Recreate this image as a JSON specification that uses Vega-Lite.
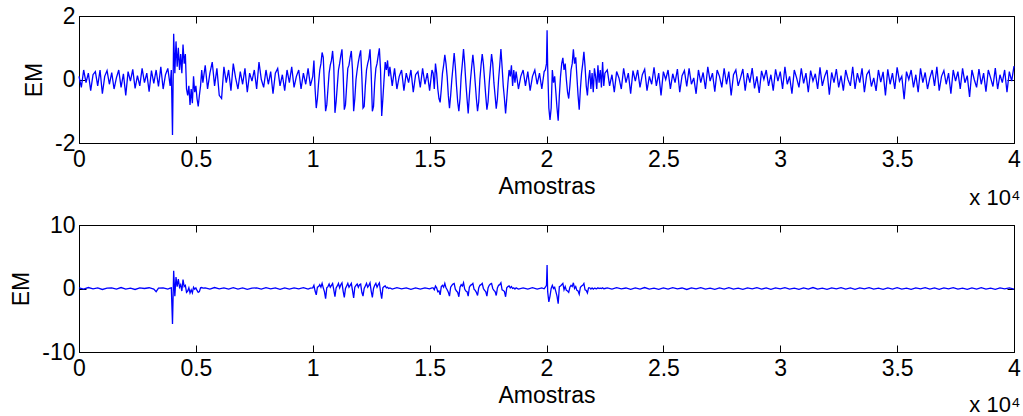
{
  "$schema": "https://vega.github.io/schema/vega-lite/v6.json",
  "background": "white",
  "padding": {"left": 10, "top": 4, "right": 1, "bottom": 0},
  "spacing": 3,
  "config": {
    "font": "Liberation Sans",
    "view": {"stroke": "black", "strokeWidth": 1},
    "axis": {
      "grid": false,
      "domainColor": "black",
      "tickColor": "black",
      "tickSize": -7,
      "labelFont": "Liberation Sans",
      "labelFontSize": 23,
      "labelColor": "black",
      "labelFlush": false,
      "labelPadding": 12,
      "titleFont": "Liberation Sans",
      "titleFontSize": 23,
      "titleFontWeight": "normal",
      "titleColor": "black",
      "titlePadding": 4
    },
    "title": {"font": "Liberation Sans", "fontSize": 22, "fontWeight": "normal", "color": "black"}
  },
  "datasets": {
    "top": [
      {"n":0,"a":0.1},{"n":100,"a":-0.25},{"n":200,"a":0.3},{"n":300,"a":-0.1},{"n":400,"a":0.2},{"n":500,"a":-0.35},{"n":600,"a":0.15},{"n":700,"a":0.25},{"n":800,"a":-0.2},{"n":900,"a":0.3},
      {"n":1000,"a":-0.45},{"n":1100,"a":0.1},{"n":1200,"a":0.28},{"n":1300,"a":-0.15},{"n":1400,"a":0.22},{"n":1500,"a":-0.3},{"n":1600,"a":0.05},{"n":1700,"a":0.3},{"n":1800,"a":-0.25},{"n":1900,"a":0.18},
      {"n":2000,"a":-0.5},{"n":2100,"a":0.25},{"n":2200,"a":-0.05},{"n":2300,"a":0.32},{"n":2400,"a":-0.28},{"n":2500,"a":0.12},{"n":2600,"a":-0.2},{"n":2700,"a":0.35},{"n":2800,"a":-0.1},{"n":2900,"a":0.2},
      {"n":3000,"a":-0.38},{"n":3100,"a":0.28},{"n":3200,"a":-0.12},{"n":3300,"a":0.3},{"n":3400,"a":-0.22},{"n":3500,"a":0.4},{"n":3600,"a":-0.3},{"n":3700,"a":0.15},{"n":3800,"a":0.35},{"n":3900,"a":-0.2},
      {"n":3950,"a":0.3},{"n":4000,"a":-1.75},{"n":4050,"a":1.44},{"n":4100,"a":0.2},{"n":4150,"a":1.2},{"n":4200,"a":0.4},{"n":4250,"a":1.0},{"n":4300,"a":0.3},{"n":4350,"a":0.8},{"n":4400,"a":0.2},
      {"n":4450,"a":1.1},{"n":4500,"a":0.5},{"n":4550,"a":0.8},{"n":4600,"a":-0.3},{"n":4650,"a":-0.5},{"n":4700,"a":-0.2},{"n":4750,"a":-0.8},{"n":4800,"a":-0.3},{"n":4850,"a":-0.75},{"n":4900,"a":0.1},
      {"n":4950,"a":-0.4},{"n":5000,"a":-0.2},{"n":5050,"a":-0.6},{"n":5100,"a":-0.85},{"n":5150,"a":-0.5},{"n":5200,"a":-0.2},{"n":5250,"a":0.3},{"n":5300,"a":-0.1},
      {"n":5400,"a":0.45},{"n":5500,"a":-0.3},{"n":5600,"a":0.2},{"n":5700,"a":0.55},{"n":5800,"a":-0.2},{"n":5900,"a":0.35},{"n":6000,"a":-0.5},{"n":6100,"a":-0.6},{"n":6200,"a":0.4},{"n":6300,"a":-0.1},
      {"n":6400,"a":0.3},{"n":6500,"a":-0.35},{"n":6600,"a":0.5},{"n":6700,"a":0.05},{"n":6800,"a":-0.3},{"n":6900,"a":0.25},{"n":7000,"a":-0.15},{"n":7100,"a":0.35},{"n":7200,"a":-0.4},{"n":7300,"a":0.2},
      {"n":7400,"a":-0.05},{"n":7500,"a":0.3},{"n":7600,"a":-0.3},{"n":7700,"a":0.55},{"n":7800,"a":0.0},{"n":7900,"a":-0.25},{"n":8000,"a":0.3},{"n":8100,"a":-0.15},{"n":8200,"a":0.25},{"n":8300,"a":-0.45},
      {"n":8400,"a":0.2},{"n":8500,"a":0.35},{"n":8600,"a":-0.2},{"n":8700,"a":0.15},{"n":8800,"a":-0.35},{"n":8900,"a":0.3},{"n":9000,"a":-0.1},{"n":9100,"a":0.4},{"n":9200,"a":-0.25},{"n":9300,"a":0.1},
      {"n":9400,"a":0.3},{"n":9500,"a":-0.3},{"n":9600,"a":0.2},{"n":9700,"a":-0.15},{"n":9800,"a":0.35},{"n":9900,"a":-0.2},
      {"n":10000,"a":0.1},{"n":10050,"a":0.6},{"n":10100,"a":-0.3},{"n":10150,"a":-0.9},{"n":10200,"a":-0.6},{"n":10250,"a":-0.1},{"n":10300,"a":0.3},{"n":10350,"a":0.5},{"n":10400,"a":0.85},{"n":10450,"a":0.7},
      {"n":10500,"a":-0.2},{"n":10550,"a":-1.0},{"n":10600,"a":-0.8},{"n":10650,"a":-0.3},{"n":10700,"a":0.2},{"n":10750,"a":0.45},{"n":10800,"a":0.6},{"n":10850,"a":0.9},{"n":10900,"a":0.4},{"n":10950,"a":-1.05},
      {"n":11000,"a":-0.7},{"n":11050,"a":-0.2},{"n":11100,"a":0.3},{"n":11150,"a":0.5},{"n":11200,"a":0.75},{"n":11250,"a":0.95},{"n":11300,"a":0.2},{"n":11350,"a":-0.95},{"n":11400,"a":-0.8},{"n":11450,"a":-0.2},
      {"n":11500,"a":0.35},{"n":11550,"a":0.45},{"n":11600,"a":0.7},{"n":11650,"a":0.9},{"n":11700,"a":0.3},{"n":11750,"a":-1.0},{"n":11800,"a":-0.6},{"n":11850,"a":0.0},{"n":11900,"a":0.3},{"n":11950,"a":0.55},
      {"n":12000,"a":0.75},{"n":12050,"a":0.92},{"n":12100,"a":0.1},{"n":12150,"a":-0.9},{"n":12200,"a":-0.85},{"n":12250,"a":-0.2},{"n":12300,"a":0.3},{"n":12350,"a":0.5},{"n":12400,"a":0.65},{"n":12450,"a":0.95},
      {"n":12500,"a":0.2},{"n":12550,"a":-1.0},{"n":12600,"a":-0.85},{"n":12650,"a":-0.1},{"n":12700,"a":0.35},{"n":12750,"a":0.5},{"n":12800,"a":0.75},{"n":12850,"a":0.98},{"n":12900,"a":0.3},{"n":12950,"a":-1.15},
      {"n":13000,"a":-0.6},{"n":13050,"a":0.0},{"n":13100,"a":0.55},{"n":13150,"a":0.3},{"n":13200,"a":0.6},{"n":13250,"a":0.1},{"n":13300,"a":0.4},
      {"n":13400,"a":-0.2},{"n":13500,"a":0.35},{"n":13600,"a":-0.3},{"n":13700,"a":0.1},{"n":13800,"a":0.3},{"n":13900,"a":-0.35},{"n":14000,"a":0.2},{"n":14100,"a":-0.1},{"n":14200,"a":0.3},{"n":14300,"a":-0.4},
      {"n":14400,"a":0.15},{"n":14500,"a":0.25},{"n":14600,"a":-0.25},{"n":14700,"a":0.35},{"n":14800,"a":-0.15},{"n":14900,"a":0.2},{"n":15000,"a":-0.35},{"n":15100,"a":0.3},
      {"n":15150,"a":0.2},{"n":15200,"a":-0.3},{"n":15250,"a":0.5},{"n":15300,"a":0.2},{"n":15350,"a":-0.3},{"n":15400,"a":-0.6},{"n":15450,"a":-0.72},{"n":15500,"a":-0.3},{"n":15550,"a":0.2},{"n":15600,"a":0.45},
      {"n":15650,"a":0.78},{"n":15700,"a":0.5},{"n":15750,"a":0.1},{"n":15800,"a":-0.5},{"n":15850,"a":-0.9},{"n":15900,"a":-0.5},{"n":15950,"a":0.0},{"n":16000,"a":0.4},{"n":16050,"a":0.83},{"n":16100,"a":0.4},
      {"n":16150,"a":-0.2},{"n":16200,"a":-0.7},{"n":16250,"a":-1.0},{"n":16300,"a":-0.6},{"n":16350,"a":0.1},{"n":16400,"a":0.5},{"n":16450,"a":0.96},{"n":16500,"a":0.5},{"n":16550,"a":-0.1},{"n":16600,"a":-0.6},
      {"n":16650,"a":-1.07},{"n":16700,"a":-0.5},{"n":16750,"a":0.0},{"n":16800,"a":0.4},{"n":16850,"a":0.78},{"n":16900,"a":0.4},{"n":16950,"a":-0.1},{"n":17000,"a":-0.6},{"n":17050,"a":-1.0},{"n":17100,"a":-0.7},
      {"n":17150,"a":0.0},{"n":17200,"a":0.45},{"n":17250,"a":0.8},{"n":17300,"a":0.5},{"n":17350,"a":0.0},{"n":17400,"a":-0.5},{"n":17450,"a":-0.95},{"n":17500,"a":-0.7},{"n":17550,"a":-0.1},{"n":17600,"a":0.35},
      {"n":17650,"a":0.8},{"n":17700,"a":0.5},{"n":17750,"a":-0.1},{"n":17800,"a":-0.5},{"n":17850,"a":-0.92},{"n":17900,"a":-0.6},{"n":17950,"a":0.0},{"n":18000,"a":0.45},{"n":18050,"a":0.96},{"n":18100,"a":0.4},
      {"n":18150,"a":-0.2},{"n":18200,"a":-0.6},{"n":18250,"a":-1.07},{"n":18300,"a":-0.6},{"n":18350,"a":-0.1},{"n":18400,"a":0.3},{"n":18450,"a":0.1},{"n":18500,"a":0.45},{"n":18550,"a":-0.2},{"n":18600,"a":0.3},
      {"n":18650,"a":-0.1},{"n":18700,"a":0.25},
      {"n":18800,"a":-0.3},{"n":18900,"a":0.1},{"n":19000,"a":0.3},{"n":19100,"a":-0.2},{"n":19200,"a":0.25},{"n":19300,"a":-0.35},{"n":19400,"a":0.1},{"n":19500,"a":0.3},{"n":19600,"a":-0.15},{"n":19700,"a":0.2},
      {"n":19800,"a":-0.3},{"n":19900,"a":0.25},
      {"n":19950,"a":0.3},{"n":20000,"a":0.5},{"n":20025,"a":1.55},{"n":20050,"a":0.4},{"n":20100,"a":-0.9},{"n":20150,"a":-1.27},{"n":20200,"a":-0.9},{"n":20250,"a":0.3},{"n":20300,"a":-0.1},{"n":20350,"a":0.1},
      {"n":20400,"a":-0.4},{"n":20450,"a":-0.9},{"n":20500,"a":-1.3},{"n":20550,"a":-0.5},{"n":20600,"a":0.1},{"n":20650,"a":0.5},{"n":20700,"a":0.68},{"n":20750,"a":0.3},{"n":20800,"a":0.5},{"n":20850,"a":0.0},
      {"n":20900,"a":-0.4},{"n":20950,"a":-0.6},{"n":21000,"a":-0.2},{"n":21050,"a":0.3},{"n":21100,"a":0.5},{"n":21150,"a":0.95},{"n":21200,"a":0.5},{"n":21250,"a":0.7},{"n":21300,"a":0.1},{"n":21350,"a":-0.5},
      {"n":21400,"a":-0.95},{"n":21450,"a":-0.3},{"n":21500,"a":0.2},{"n":21550,"a":0.5},{"n":21600,"a":0.87},{"n":21650,"a":0.4},{"n":21700,"a":-0.2},{"n":21750,"a":-0.5},{"n":21800,"a":0.0},{"n":21850,"a":0.3},
      {"n":21900,"a":-0.3},{"n":21950,"a":0.2},{"n":22000,"a":-0.4},{"n":22050,"a":0.35},{"n":22100,"a":0.1},{"n":22150,"a":-0.3},{"n":22200,"a":0.45},{"n":22250,"a":-0.1},{"n":22300,"a":0.3},{"n":22350,"a":-0.25},
      {"n":22400,"a":0.55},{"n":22450,"a":-0.2},{"n":22500,"a":0.2},
      {"n":22600,"a":0.3},{"n":22700,"a":-0.2},{"n":22800,"a":0.15},{"n":22900,"a":-0.4},{"n":23000,"a":0.25},{"n":23100,"a":0.05},{"n":23200,"a":-0.3},{"n":23300,"a":0.35},{"n":23400,"a":-0.1},{"n":23500,"a":0.2},
      {"n":23600,"a":-0.45},{"n":23700,"a":0.28},{"n":23800,"a":-0.05},{"n":23900,"a":0.3},{"n":24000,"a":-0.25},{"n":24100,"a":0.15},{"n":24200,"a":0.32},{"n":24300,"a":-0.35},{"n":24400,"a":0.1},{"n":24500,"a":-0.15},
      {"n":24600,"a":0.38},{"n":24700,"a":-0.2},{"n":24800,"a":0.2},{"n":24900,"a":-0.5},{"n":25000,"a":0.25},{"n":25100,"a":0.0},{"n":25200,"a":0.3},{"n":25300,"a":-0.3},{"n":25400,"a":0.18},{"n":25500,"a":-0.1},
      {"n":25600,"a":0.33},{"n":25700,"a":-0.4},{"n":25800,"a":0.12},{"n":25900,"a":0.28},{"n":26000,"a":-0.22},{"n":26100,"a":0.35},{"n":26200,"a":-0.15},{"n":26300,"a":0.05},{"n":26400,"a":-0.45},{"n":26500,"a":0.3},
      {"n":26600,"a":-0.1},{"n":26700,"a":0.22},{"n":26800,"a":-0.3},{"n":26900,"a":0.4},{"n":27000,"a":-0.05},{"n":27100,"a":0.2},{"n":27200,"a":-0.38},{"n":27300,"a":0.3},{"n":27400,"a":0.1},{"n":27500,"a":-0.25},
      {"n":27600,"a":0.35},{"n":27700,"a":-0.15},{"n":27800,"a":0.25},{"n":27900,"a":-0.5},{"n":28000,"a":0.15},{"n":28100,"a":0.3},{"n":28200,"a":-0.2},{"n":28300,"a":0.05},{"n":28400,"a":0.33},{"n":28500,"a":-0.35},
      {"n":28600,"a":0.2},{"n":28700,"a":-0.1},{"n":28800,"a":0.36},{"n":28900,"a":-0.28},{"n":29000,"a":0.1},{"n":29100,"a":-0.42},{"n":29200,"a":0.27},{"n":29300,"a":0.0},{"n":29400,"a":0.3},{"n":29500,"a":-0.2},
      {"n":29600,"a":0.15},{"n":29700,"a":-0.35},{"n":29800,"a":0.32},{"n":29900,"a":-0.05},{"n":30000,"a":0.25},{"n":30100,"a":-0.3},{"n":30200,"a":0.4},{"n":30300,"a":-0.15},{"n":30400,"a":0.1},{"n":30500,"a":-0.45},
      {"n":30600,"a":0.3},{"n":30700,"a":0.05},{"n":30800,"a":-0.25},{"n":30900,"a":0.35},{"n":31000,"a":-0.12},{"n":31100,"a":0.2},{"n":31200,"a":-0.4},{"n":31300,"a":0.28},{"n":31400,"a":-0.05},{"n":31500,"a":0.18},
      {"n":31600,"a":-0.3},{"n":31700,"a":0.38},{"n":31800,"a":-0.2},{"n":31900,"a":0.1},{"n":32000,"a":0.3},{"n":32100,"a":-0.48},{"n":32200,"a":0.22},{"n":32300,"a":-0.1},{"n":32400,"a":0.33},{"n":32500,"a":-0.25},
      {"n":32600,"a":0.12},{"n":32700,"a":-0.35},{"n":32800,"a":0.3},{"n":32900,"a":0.0},{"n":33000,"a":-0.2},{"n":33100,"a":0.4},{"n":33200,"a":-0.3},{"n":33300,"a":0.2},{"n":33400,"a":-0.1},{"n":33500,"a":0.35},
      {"n":33600,"a":-0.4},{"n":33700,"a":0.15},{"n":33800,"a":0.28},{"n":33900,"a":-0.22},{"n":34000,"a":0.05},{"n":34100,"a":-0.36},{"n":34200,"a":0.3},{"n":34300,"a":-0.08},{"n":34400,"a":0.24},{"n":34500,"a":-0.5},
      {"n":34600,"a":0.32},{"n":34700,"a":-0.15},{"n":34800,"a":0.2},{"n":34900,"a":-0.3},{"n":35000,"a":0.38},{"n":35100,"a":-0.05},{"n":35200,"a":0.1},{"n":35300,"a":-0.62},{"n":35400,"a":0.25},{"n":35500,"a":0.0},
      {"n":35600,"a":0.3},{"n":35700,"a":-0.25},{"n":35800,"a":0.15},{"n":35900,"a":-0.4},{"n":36000,"a":0.35},{"n":36100,"a":-0.1},{"n":36200,"a":0.22},{"n":36300,"a":-0.3},{"n":36400,"a":0.05},{"n":36500,"a":0.3},
      {"n":36600,"a":-0.2},{"n":36700,"a":0.4},{"n":36800,"a":-0.35},{"n":36900,"a":0.1},{"n":37000,"a":0.28},{"n":37100,"a":-0.15},{"n":37200,"a":0.2},{"n":37300,"a":-0.45},{"n":37400,"a":0.3},{"n":37500,"a":-0.05},
      {"n":37600,"a":0.25},{"n":37700,"a":-0.3},{"n":37800,"a":0.35},{"n":37900,"a":-0.1},{"n":38000,"a":0.12},{"n":38100,"a":-0.55},{"n":38200,"a":0.3},{"n":38300,"a":0.0},{"n":38400,"a":-0.25},{"n":38500,"a":0.33},
      {"n":38600,"a":-0.15},{"n":38700,"a":0.2},{"n":38800,"a":-0.38},{"n":38900,"a":0.3},{"n":39000,"a":0.05},{"n":39100,"a":-0.22},{"n":39200,"a":0.36},{"n":39300,"a":-0.3},{"n":39400,"a":0.15},{"n":39500,"a":-0.1},
      {"n":39600,"a":0.3},{"n":39700,"a":-0.4},{"n":39800,"a":0.25},{"n":39900,"a":-0.05},{"n":40000,"a":0.42}
    ],
    "bottom": [
      {"n":0,"b":0.1},{"n":200,"b":-0.1},{"n":400,"b":0.15},{"n":600,"b":-0.05},{"n":800,"b":0.1},{"n":1000,"b":-0.15},{"n":1200,"b":0.05},{"n":1400,"b":0.1},{"n":1600,"b":-0.1},{"n":1800,"b":0.15},
      {"n":2000,"b":-0.1},{"n":2200,"b":0.05},{"n":2400,"b":-0.15},{"n":2600,"b":0.1},{"n":2800,"b":0.0},{"n":3000,"b":0.12},{"n":3200,"b":-0.1},{"n":3300,"b":-0.5},{"n":3400,"b":0.05},{"n":3600,"b":0.1},
      {"n":3800,"b":-0.1},{"n":3900,"b":0.05},
      {"n":3950,"b":0.1},{"n":4000,"b":-5.6},{"n":4050,"b":2.8},{"n":4100,"b":-1.2},{"n":4150,"b":1.8},{"n":4200,"b":0.3},{"n":4250,"b":1.5},{"n":4300,"b":0.2},{"n":4350,"b":0.6},{"n":4400,"b":-0.4},
      {"n":4450,"b":1.4},{"n":4500,"b":0.3},{"n":4550,"b":0.5},{"n":4600,"b":-0.6},{"n":4650,"b":-0.4},{"n":4700,"b":0.1},{"n":4750,"b":-0.7},{"n":4800,"b":-0.2},{"n":4850,"b":-0.7},{"n":4900,"b":0.2},
      {"n":4950,"b":-0.1},{"n":5000,"b":0.1},{"n":5050,"b":-0.3},{"n":5100,"b":-0.6},{"n":5150,"b":-0.5},{"n":5200,"b":0.1},{"n":5250,"b":0.15},{"n":5300,"b":0.05},
      {"n":5400,"b":0.1},{"n":5600,"b":-0.1},{"n":5800,"b":0.15},{"n":6000,"b":-0.05},{"n":6200,"b":0.1},{"n":6400,"b":-0.1},{"n":6600,"b":0.12},{"n":6800,"b":-0.08},{"n":7000,"b":0.1},{"n":7200,"b":-0.12},
      {"n":7400,"b":0.05},{"n":7600,"b":0.1},{"n":7800,"b":-0.1},{"n":8000,"b":0.12},{"n":8200,"b":-0.05},{"n":8400,"b":0.1},{"n":8600,"b":-0.12},{"n":8800,"b":0.08},{"n":9000,"b":-0.1},{"n":9200,"b":0.1},
      {"n":9400,"b":-0.05},{"n":9600,"b":0.12},{"n":9800,"b":-0.1},{"n":9900,"b":0.05},
      {"n":10000,"b":0.1},{"n":10050,"b":0.5},{"n":10100,"b":-0.4},{"n":10150,"b":-1.0},{"n":10200,"b":0.2},{"n":10250,"b":0.3},{"n":10300,"b":0.6},{"n":10350,"b":0.2},{"n":10400,"b":0.8},{"n":10450,"b":0.1},
      {"n":10500,"b":-0.5},{"n":10550,"b":-1.6},{"n":10600,"b":0.1},{"n":10650,"b":0.3},{"n":10700,"b":0.7},{"n":10750,"b":0.2},{"n":10800,"b":0.5},{"n":10850,"b":0.8},{"n":10900,"b":-0.2},{"n":10950,"b":-1.3},
      {"n":11000,"b":0.1},{"n":11050,"b":0.4},{"n":11100,"b":0.8},{"n":11150,"b":0.1},{"n":11200,"b":0.6},{"n":11250,"b":0.9},{"n":11300,"b":-0.4},{"n":11350,"b":-1.4},{"n":11400,"b":0.0},{"n":11450,"b":0.4},
      {"n":11500,"b":0.8},{"n":11550,"b":0.2},{"n":11600,"b":0.5},{"n":11650,"b":0.8},{"n":11700,"b":-0.3},{"n":11750,"b":-1.5},{"n":11800,"b":0.2},{"n":11850,"b":0.5},{"n":11900,"b":0.7},{"n":11950,"b":0.2},
      {"n":12000,"b":0.6},{"n":12050,"b":0.7},{"n":12100,"b":-0.6},{"n":12150,"b":-1.2},{"n":12200,"b":0.0},{"n":12250,"b":0.4},{"n":12300,"b":0.8},{"n":12350,"b":0.2},{"n":12400,"b":0.5},{"n":12450,"b":0.9},
      {"n":12500,"b":-0.4},{"n":12550,"b":-1.4},{"n":12600,"b":0.0},{"n":12650,"b":0.5},{"n":12700,"b":0.8},{"n":12750,"b":0.2},{"n":12800,"b":0.6},{"n":12850,"b":0.9},{"n":12900,"b":-0.5},{"n":12950,"b":-1.6},
      {"n":13000,"b":0.1},{"n":13050,"b":0.3},{"n":13100,"b":0.4},{"n":13150,"b":0.1},{"n":13200,"b":0.2},{"n":13250,"b":0.0},{"n":13300,"b":0.1},
      {"n":13400,"b":-0.1},{"n":13600,"b":0.12},{"n":13800,"b":-0.05},{"n":14000,"b":0.1},{"n":14200,"b":-0.12},{"n":14400,"b":0.08},{"n":14600,"b":-0.1},{"n":14800,"b":0.1},{"n":15000,"b":-0.05},{"n":15100,"b":0.1},
      {"n":15150,"b":0.1},{"n":15200,"b":-0.2},{"n":15250,"b":0.4},{"n":15300,"b":0.1},{"n":15350,"b":-0.5},{"n":15400,"b":-0.4},{"n":15450,"b":-1.0},{"n":15500,"b":0.3},{"n":15550,"b":0.5},{"n":15600,"b":0.2},
      {"n":15650,"b":0.8},{"n":15700,"b":0.1},{"n":15750,"b":-0.2},{"n":15800,"b":-0.6},{"n":15850,"b":-1.2},{"n":15900,"b":0.2},{"n":15950,"b":0.5},{"n":16000,"b":0.7},{"n":16050,"b":0.8},{"n":16100,"b":-0.1},
      {"n":16150,"b":-0.4},{"n":16200,"b":-0.6},{"n":16250,"b":-1.3},{"n":16300,"b":0.2},{"n":16350,"b":0.6},{"n":16400,"b":0.4},{"n":16450,"b":0.9},{"n":16500,"b":-0.1},{"n":16550,"b":-0.4},{"n":16600,"b":-0.5},
      {"n":16650,"b":-1.2},{"n":16700,"b":0.2},{"n":16750,"b":0.5},{"n":16800,"b":0.6},{"n":16850,"b":0.8},{"n":16900,"b":-0.1},{"n":16950,"b":-0.3},{"n":17000,"b":-0.6},{"n":17050,"b":-1.1},{"n":17100,"b":0.1},
      {"n":17150,"b":0.5},{"n":17200,"b":0.6},{"n":17250,"b":0.8},{"n":17300,"b":0.0},{"n":17350,"b":-0.3},{"n":17400,"b":-0.5},{"n":17450,"b":-1.2},{"n":17500,"b":0.1},{"n":17550,"b":0.5},{"n":17600,"b":0.7},
      {"n":17650,"b":0.8},{"n":17700,"b":0.0},{"n":17750,"b":-0.3},{"n":17800,"b":-0.5},{"n":17850,"b":-1.1},{"n":17900,"b":0.1},{"n":17950,"b":0.5},{"n":18000,"b":0.6},{"n":18050,"b":0.9},{"n":18100,"b":-0.2},
      {"n":18150,"b":-0.3},{"n":18200,"b":-0.5},{"n":18250,"b":-1.3},{"n":18300,"b":0.1},{"n":18350,"b":0.3},{"n":18400,"b":0.4},{"n":18450,"b":0.1},{"n":18500,"b":0.3},{"n":18550,"b":0.0},{"n":18600,"b":0.1},
      {"n":18650,"b":-0.1},{"n":18700,"b":0.1},
      {"n":18800,"b":-0.1},{"n":19000,"b":0.1},{"n":19200,"b":-0.08},{"n":19400,"b":0.12},{"n":19600,"b":-0.1},{"n":19800,"b":0.1},{"n":19900,"b":-0.05},
      {"n":19950,"b":0.2},{"n":20000,"b":0.5},{"n":20025,"b":3.7},{"n":20050,"b":-0.5},{"n":20100,"b":-2.1},{"n":20150,"b":-1.2},{"n":20200,"b":0.0},{"n":20250,"b":0.5},{"n":20300,"b":0.0},{"n":20350,"b":0.2},
      {"n":20400,"b":-0.5},{"n":20450,"b":-1.2},{"n":20500,"b":-2.4},{"n":20550,"b":0.3},{"n":20600,"b":0.4},{"n":20650,"b":0.6},{"n":20700,"b":0.8},{"n":20750,"b":-0.2},{"n":20800,"b":0.3},{"n":20850,"b":-0.3},
      {"n":20900,"b":-0.4},{"n":20950,"b":-0.6},{"n":21000,"b":0.2},{"n":21050,"b":0.5},{"n":21100,"b":0.3},{"n":21150,"b":0.9},{"n":21200,"b":0.0},{"n":21250,"b":0.3},{"n":21300,"b":-0.3},{"n":21350,"b":-0.4},
      {"n":21400,"b":-0.9},{"n":21450,"b":0.2},{"n":21500,"b":0.4},{"n":21550,"b":0.5},{"n":21600,"b":0.8},{"n":21650,"b":-0.2},{"n":21700,"b":-0.3},{"n":21750,"b":-0.7},{"n":21800,"b":0.1},{"n":21850,"b":0.1},
      {"n":21900,"b":-0.1},{"n":21950,"b":0.1},{"n":22000,"b":-0.1},{"n":22050,"b":0.05},{"n":22100,"b":0.0},{"n":22150,"b":-0.05},{"n":22200,"b":0.1},{"n":22250,"b":0.0},{"n":22300,"b":0.05},{"n":22350,"b":0.0},
      {"n":22400,"b":0.1},{"n":22450,"b":-0.05},{"n":22500,"b":0.0},
      {"n":22600,"b":0.1},{"n":22800,"b":-0.1},{"n":23000,"b":0.12},{"n":23200,"b":-0.05},{"n":23400,"b":0.08},{"n":23600,"b":-0.12},{"n":23800,"b":0.1},{"n":24000,"b":-0.08},{"n":24200,"b":0.15},{"n":24400,"b":-0.1},
      {"n":24600,"b":0.05},{"n":24800,"b":-0.12},{"n":25000,"b":0.1},{"n":25200,"b":-0.1},{"n":25400,"b":0.12},{"n":25600,"b":-0.05},{"n":25800,"b":0.08},{"n":26000,"b":-0.15},{"n":26200,"b":0.1},{"n":26400,"b":-0.06},
      {"n":26600,"b":0.12},{"n":26800,"b":-0.1},{"n":27000,"b":0.06},{"n":27200,"b":-0.12},{"n":27400,"b":0.1},{"n":27600,"b":-0.08},{"n":27800,"b":0.14},{"n":28000,"b":-0.1},{"n":28200,"b":0.05},{"n":28400,"b":-0.12},
      {"n":28600,"b":0.1},{"n":28800,"b":-0.05},{"n":29000,"b":0.12},{"n":29200,"b":-0.1},{"n":29400,"b":0.08},{"n":29600,"b":-0.14},{"n":29800,"b":0.1},{"n":30000,"b":-0.06},{"n":30200,"b":0.12},{"n":30400,"b":-0.1},
      {"n":30600,"b":0.06},{"n":30800,"b":-0.12},{"n":31000,"b":0.1},{"n":31200,"b":-0.08},{"n":31400,"b":0.15},{"n":31600,"b":-0.1},{"n":31800,"b":0.05},{"n":32000,"b":-0.12},{"n":32200,"b":0.1},{"n":32400,"b":-0.05},
      {"n":32600,"b":0.12},{"n":32800,"b":-0.1},{"n":33000,"b":0.08},{"n":33200,"b":-0.12},{"n":33400,"b":0.1},{"n":33600,"b":-0.06},{"n":33800,"b":0.14},{"n":34000,"b":-0.1},{"n":34200,"b":0.06},{"n":34400,"b":-0.12},
      {"n":34600,"b":0.1},{"n":34800,"b":-0.08},{"n":35000,"b":0.12},{"n":35200,"b":-0.1},{"n":35400,"b":0.05},{"n":35600,"b":-0.14},{"n":35800,"b":0.1},{"n":36000,"b":-0.06},{"n":36200,"b":0.12},{"n":36400,"b":-0.1},
      {"n":36600,"b":0.08},{"n":36800,"b":-0.12},{"n":37000,"b":0.1},{"n":37200,"b":-0.05},{"n":37400,"b":0.14},{"n":37600,"b":-0.1},{"n":37800,"b":0.06},{"n":38000,"b":-0.12},{"n":38200,"b":0.1},{"n":38400,"b":-0.08},
      {"n":38600,"b":0.12},{"n":38800,"b":-0.1},{"n":39000,"b":0.05},{"n":39200,"b":-0.12},{"n":39400,"b":0.1},{"n":39600,"b":-0.06},{"n":39800,"b":0.1},{"n":40000,"b":-0.08}
    ]
  },
  "vconcat": [
    {
      "width": 935,
      "height": 127,
      "data": {"name": "top"},
      "title": {"text": "x 10⁴", "orient": "bottom", "anchor": "end", "offset": -10},
      "layer": [
        {
          "mark": {"type": "line", "color": "#0000ff", "strokeWidth": 1.3},
          "encoding": {
            "x": {"field": "n", "type": "quantitative", "scale": {"domain": [0, 40000], "nice": false, "zero": false},
                  "axis": {"values": [0, 5000, 10000, 15000, 20000, 25000, 30000, 35000, 40000], "labelExpr": "datum.value / 10000", "title": "Amostras"}},
            "y": {"field": "a", "type": "quantitative", "scale": {"domain": [-2, 2], "nice": false},
                  "axis": {"values": [-2, 0, 2], "labelExpr": "'' + datum.value", "title": "EM", "titlePadding": 8, "labelPadding": 11}}
          }
        },
        {
          "mark": {"type": "line", "opacity": 0},
          "encoding": {
            "x": {"field": "n", "type": "quantitative", "scale": {"domain": [0, 40000], "nice": false, "zero": false},
                  "axis": {"orient": "top", "values": [0, 5000, 10000, 15000, 20000, 25000, 30000, 35000, 40000], "labels": false, "title": null}},
            "y": {"field": "a", "type": "quantitative", "scale": {"domain": [-2, 2], "nice": false},
                  "axis": {"orient": "right", "values": [-2, 0, 2], "labels": false, "title": null}}
          }
        }
      ],
      "resolve": {"axis": {"x": "independent", "y": "independent"}}
    },
    {
      "width": 935,
      "height": 127,
      "data": {"name": "bottom"},
      "title": {"text": "x 10⁴", "orient": "bottom", "anchor": "end", "offset": -12},
      "layer": [
        {
          "mark": {"type": "line", "color": "#0000ff", "strokeWidth": 1.3},
          "encoding": {
            "x": {"field": "n", "type": "quantitative", "scale": {"domain": [0, 40000], "nice": false, "zero": false},
                  "axis": {"values": [0, 5000, 10000, 15000, 20000, 25000, 30000, 35000, 40000], "labelExpr": "datum.value / 10000", "title": "Amostras"}},
            "y": {"field": "b", "type": "quantitative", "scale": {"domain": [-10, 10], "nice": false},
                  "axis": {"values": [-10, 0, 10], "labelExpr": "'' + datum.value", "title": "EM", "titlePadding": 8, "labelPadding": 11}}
          }
        },
        {
          "mark": {"type": "line", "opacity": 0},
          "encoding": {
            "x": {"field": "n", "type": "quantitative", "scale": {"domain": [0, 40000], "nice": false, "zero": false},
                  "axis": {"orient": "top", "values": [0, 5000, 10000, 15000, 20000, 25000, 30000, 35000, 40000], "labels": false, "title": null}},
            "y": {"field": "b", "type": "quantitative", "scale": {"domain": [-10, 10], "nice": false},
                  "axis": {"orient": "right", "values": [-10, 0, 10], "labels": false, "title": null}}
          }
        }
      ],
      "resolve": {"axis": {"x": "independent", "y": "independent"}}
    }
  ]
}
